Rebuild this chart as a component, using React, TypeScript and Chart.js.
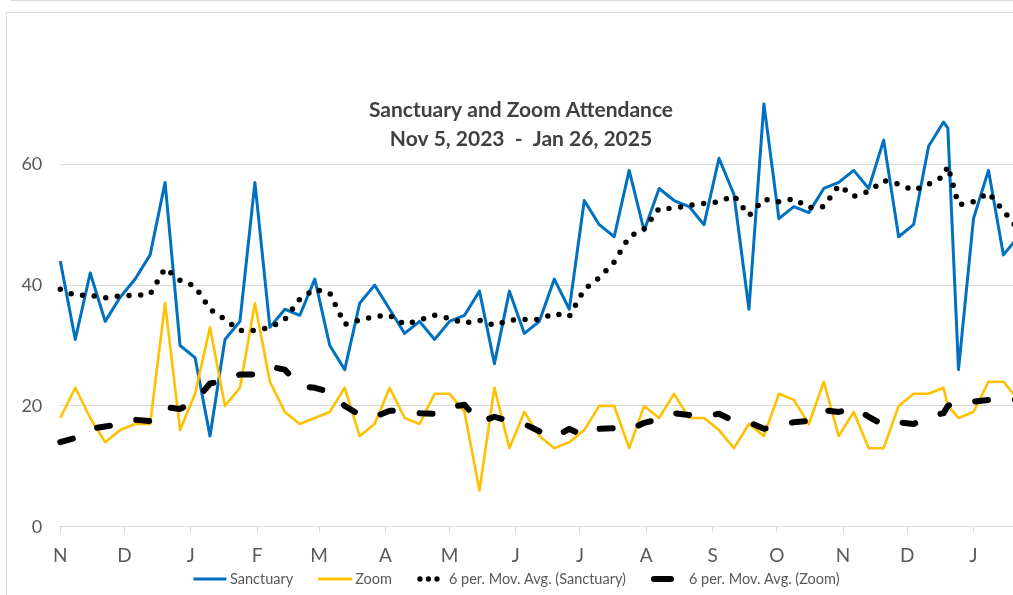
import React, { useEffect, useRef } from "react";
import { Chart, registerables } from "chart.js";

Chart.register(...registerables);

const FONT = "Lato, 'Open Sans', sans-serif";

const chartTitle = ["Sanctuary and Zoom Attendance", "Nov 5, 2023  -  Jan 26, 2025"];

const seriesNames = [
  "Sanctuary",
  "Zoom",
  "6 per. Mov. Avg. (Sanctuary)",
  "6 per. Mov. Avg. (Zoom)",
];

const dates = [
  "2023-11-05", "2023-11-12", "2023-11-19", "2023-11-26", "2023-12-03", "2023-12-10",
  "2023-12-17", "2023-12-24", "2023-12-31", "2024-01-07", "2024-01-14", "2024-01-21",
  "2024-01-28", "2024-02-04", "2024-02-11", "2024-02-18", "2024-02-25", "2024-03-03",
  "2024-03-10", "2024-03-17", "2024-03-24", "2024-03-31", "2024-04-07", "2024-04-14",
  "2024-04-21", "2024-04-28", "2024-05-05", "2024-05-12", "2024-05-19", "2024-05-26",
  "2024-06-02", "2024-06-09", "2024-06-16", "2024-06-23", "2024-06-30", "2024-07-07",
  "2024-07-14", "2024-07-21", "2024-07-28", "2024-08-04", "2024-08-11", "2024-08-18",
  "2024-08-25", "2024-09-01", "2024-09-08", "2024-09-15", "2024-09-22", "2024-09-29",
  "2024-10-06", "2024-10-13", "2024-10-20", "2024-10-27", "2024-11-03", "2024-11-10",
  "2024-11-17", "2024-11-24", "2024-12-01", "2024-12-08", "2024-12-15", "2024-12-22",
  "2024-12-24", "2024-12-29", "2025-01-05", "2025-01-12", "2025-01-19", "2025-01-26",
];

const sanctuary = [
  44, 31, 42, 34, 38, 41, 45, 57, 30, 28,
  15, 31, 34, 57, 33, 36, 35, 41, 30, 26,
  37, 40, 36, 32, 34, 31, 34, 35, 39, 27,
  39, 32, 34, 41, 36, 54, 50, 48, 59, 49,
  56, 54, 53, 50, 61, 55, 36, 70, 51, 53,
  52, 56, 57, 59, 56, 64, 48, 50, 63, 67,
  66, 26, 51, 59, 45, 48,
];

const zoom = [
  18, 23, 18, 14, 16, 17, 17, 37, 16, 22,
  33, 20, 23, 37, 24, 19, 17, 18, 19, 23,
  15, 17, 23, 18, 17, 22, 22, 19, 6, 23,
  13, 19, 15, 13, 14, 16, 20, 20, 13, 20,
  18, 22, 18, 18, 16, 13, 17, 15, 22, 21,
  17, 24, 15, 19, 13, 13, 20, 22, 22, 23,
  20, 18, 19, 24, 24, 21,
];

const sanctuaryMovAvg = [
  39.3, 38.3, 38.3, 37.9, 38.2, 38.3, 38.5, 42.8, 40.8, 39.8,
  36.0, 34.3, 32.5, 32.5, 33.0, 34.3, 37.7, 39.3, 38.7, 33.5,
  34.2, 34.8, 35.0, 33.5, 34.2, 35.0, 34.5, 33.7, 34.2, 33.3,
  34.2, 34.3, 34.3, 35.3, 34.8, 39.3, 41.2, 43.8, 48.0, 49.3,
  52.7, 52.7, 53.2, 53.5, 53.8, 54.8, 51.5, 54.2, 53.8, 54.3,
  52.8, 53.0, 56.5, 54.7, 55.5, 57.3, 56.7, 55.7, 56.7, 58.0,
  59.7, 53.3, 53.8, 55.3, 52.3, 49.2,
];

const zoomMovAvg = [
  14.0, 14.7, 16.2, 16.6, 17.0, 17.7, 17.5, 19.8, 19.5, 20.8,
  23.7, 24.2, 25.2, 25.2, 26.5, 26.0, 23.3, 23.0, 22.3, 20.0,
  18.5, 18.2, 19.2, 19.2, 18.8, 18.7, 19.8, 20.2, 17.3, 18.2,
  17.5, 17.0, 15.8, 14.8, 16.2, 15.0, 16.2, 16.3, 16.0, 17.2,
  17.8, 18.8, 18.5, 18.2, 18.7, 17.5, 17.3, 16.2, 16.8, 17.3,
  17.5, 19.3, 19.0, 19.7, 18.2, 16.8, 17.3, 17.0, 18.2, 18.8,
  20.0, 20.8, 20.7, 21.0, 21.3, 21.0,
];

const monthTickDates = [
  "2023-11-05", "2023-12-05", "2024-01-05", "2024-02-05", "2024-03-05",
  "2024-04-05", "2024-05-05", "2024-06-05", "2024-07-05", "2024-08-05",
  "2024-09-05", "2024-10-05", "2024-11-05", "2024-12-05", "2025-01-05",
];
const monthTickLabels = ["N", "D", "J", "F", "M", "A", "M", "J", "J", "A", "S", "O", "N", "D", "J"];

const yTickValues = [0, 20, 40, 60];

function dayOffset(s: string): number {
  const [y, m, d] = s.split("-").map(Number);
  const [by, bm, bd] = dates[0].split("-").map(Number);
  return Math.round((Date.UTC(y, m - 1, d) - Date.UTC(by, bm - 1, bd)) / 86400000);
}

const CANVAS_W = 1042;
const CANVAS_H = 620;

const overlayPlugin = {
  id: "overlayTitleLegend",
  afterDraw(chart: any) {
    const ctx = chart.ctx as CanvasRenderingContext2D;
    ctx.save();
    // Title
    ctx.fillStyle = "#404040";
    ctx.font = `bold 21px ${FONT}`;
    ctx.textAlign = "center";
    ctx.textBaseline = "alphabetic";
    const cx = chart.width / 2;
    ctx.fillText(chartTitle[0], cx, 117);
    ctx.fillText(chartTitle[1], cx, 145.5);

    // Legend
    ctx.font = `14.5px ${FONT}`;
    ctx.textAlign = "left";
    const sampleW = [33, 34, 23, 23];
    const textGap = [3.5, 3, 9, 15];
    const itemGap = 25;
    const widths = seriesNames.map((n) => ctx.measureText(n).width);
    let total = 0;
    for (let i = 0; i < seriesNames.length; i++) {
      total += sampleW[i] + textGap[i] + widths[i];
      if (i < seriesNames.length - 1) total += itemGap;
    }
    let x = 516.5 - total / 2;
    const ly = 579;
    const textY = 584;
    for (let i = 0; i < seriesNames.length; i++) {
      ctx.save();
      if (i === 0 || i === 1) {
        ctx.strokeStyle = i === 0 ? "#0070C0" : "#FFC000";
        ctx.lineWidth = 3;
        ctx.beginPath();
        ctx.moveTo(x, ly);
        ctx.lineTo(x + sampleW[i], ly);
        ctx.stroke();
      } else if (i === 2) {
        ctx.fillStyle = "#000";
        [3, 11.5, 20].forEach((dx) => {
          ctx.beginPath();
          ctx.arc(x + dx, ly, 2.7, 0, Math.PI * 2);
          ctx.fill();
        });
      } else {
        ctx.strokeStyle = "#000";
        ctx.lineWidth = 6;
        ctx.lineCap = "round";
        ctx.beginPath();
        ctx.moveTo(x + 3, ly);
        ctx.lineTo(x + sampleW[i] - 3, ly);
        ctx.stroke();
      }
      ctx.restore();
      x += sampleW[i] + textGap[i];
      ctx.fillStyle = "#595959";
      ctx.fillText(seriesNames[i], x, textY);
      x += widths[i] + itemGap;
    }
    ctx.restore();
  },
};

export default function App() {
  const canvasRef = useRef<HTMLCanvasElement | null>(null);

  useEffect(() => {
    if (!canvasRef.current) return;
    const xs = dates.map(dayOffset);
    const pts = (vals: number[]) => vals.map((v, i) => ({ x: xs[i], y: v }));
    const tickValues = monthTickDates.map(dayOffset);

    const chart = new Chart(canvasRef.current, {
      type: "line",
      data: {
        datasets: [
          {
            label: seriesNames[0],
            data: pts(sanctuary),
            borderColor: "#0070C0",
            backgroundColor: "#0070C0",
            borderWidth: 3,
            pointRadius: 0,
            borderJoinStyle: "round",
            tension: 0,
            order: 4,
            clip: 6,
          },
          {
            label: seriesNames[1],
            data: pts(zoom),
            borderColor: "#FFC000",
            backgroundColor: "#FFC000",
            borderWidth: 2.6,
            pointRadius: 0,
            borderJoinStyle: "round",
            tension: 0,
            order: 3,
            clip: 6,
          },
          {
            label: seriesNames[2],
            data: pts(sanctuaryMovAvg),
            borderColor: "#000000",
            backgroundColor: "#000000",
            borderWidth: 5.5,
            borderDash: [0, 11.7],
            borderCapStyle: "round",
            borderJoinStyle: "round",
            pointRadius: 0,
            tension: 0,
            order: 2,
            clip: 6,
          },
          {
            label: seriesNames[3],
            data: pts(zoomMovAvg),
            borderColor: "#000000",
            backgroundColor: "#000000",
            borderWidth: 6,
            borderDash: [13, 27],
            borderCapStyle: "round",
            borderJoinStyle: "round",
            pointRadius: 0,
            tension: 0,
            order: 1,
            clip: 6,
          },
        ],
      },
      options: {
        responsive: false,
        animation: false,
        events: [],
        layout: { padding: { left: 0, top: 43.5, right: CANVAS_W - 1018.4, bottom: CANVAS_H - 526.7 - 50 } },
        plugins: {
          legend: { display: false },
          tooltip: { enabled: false },
          title: { display: false },
        },
        scales: {
          x: {
            type: "linear",
            min: xs[0],
            max: xs[xs.length - 1],
            afterBuildTicks: (scale: any) => {
              scale.ticks = tickValues.map((v) => ({ value: v }));
            },
            afterFit: (scale: any) => {
              scale.height = 50;
            },
            ticks: {
              autoSkip: false,
              maxRotation: 0,
              minRotation: 0,
              padding: 12,
              color: "#595959",
              font: { family: FONT, size: 19 },
              callback: (_v: any, index: number) => monthTickLabels[index],
            },
            grid: {
              drawOnChartArea: false,
              drawTicks: true,
              tickLength: 6,
              color: "#d9d9d9",
              lineWidth: 1,
            },
            border: { display: true, color: "#d9d9d9", width: 1 },
          },
          y: {
            min: 0,
            max: 80,
            afterBuildTicks: (scale: any) => {
              scale.ticks = yTickValues.map((v) => ({ value: v }));
            },
            afterFit: (scale: any) => {
              scale.width = 60.3;
            },
            ticks: {
              padding: 18,
              color: "#595959",
              font: { family: FONT, size: 18 },
            },
            grid: { color: "#d9d9d9", drawTicks: false, lineWidth: 1 },
            border: { display: false },
          },
        },
      },
      plugins: [overlayPlugin],
    } as any);

    return () => chart.destroy();
  }, []);

  return (
    <div
      style={{
        position: "fixed",
        left: 0,
        top: 0,
        width: 1013,
        height: 595,
        overflow: "hidden",
        background: "#ffffff",
      }}
    >
      <div style={{ position: "absolute", left: 11, top: 0, right: 0, height: 1, background: "#d9d9d9" }} />
      <div
        style={{
          position: "absolute",
          left: 6,
          top: 12,
          width: 1100,
          height: 700,
          border: "1px solid #d9d9d9",
        }}
      />
      <canvas
        ref={canvasRef}
        width={CANVAS_W}
        height={CANVAS_H}
        style={{ position: "absolute", left: 0, top: 0, width: CANVAS_W, height: CANVAS_H }}
      />
    </div>
  );
}
